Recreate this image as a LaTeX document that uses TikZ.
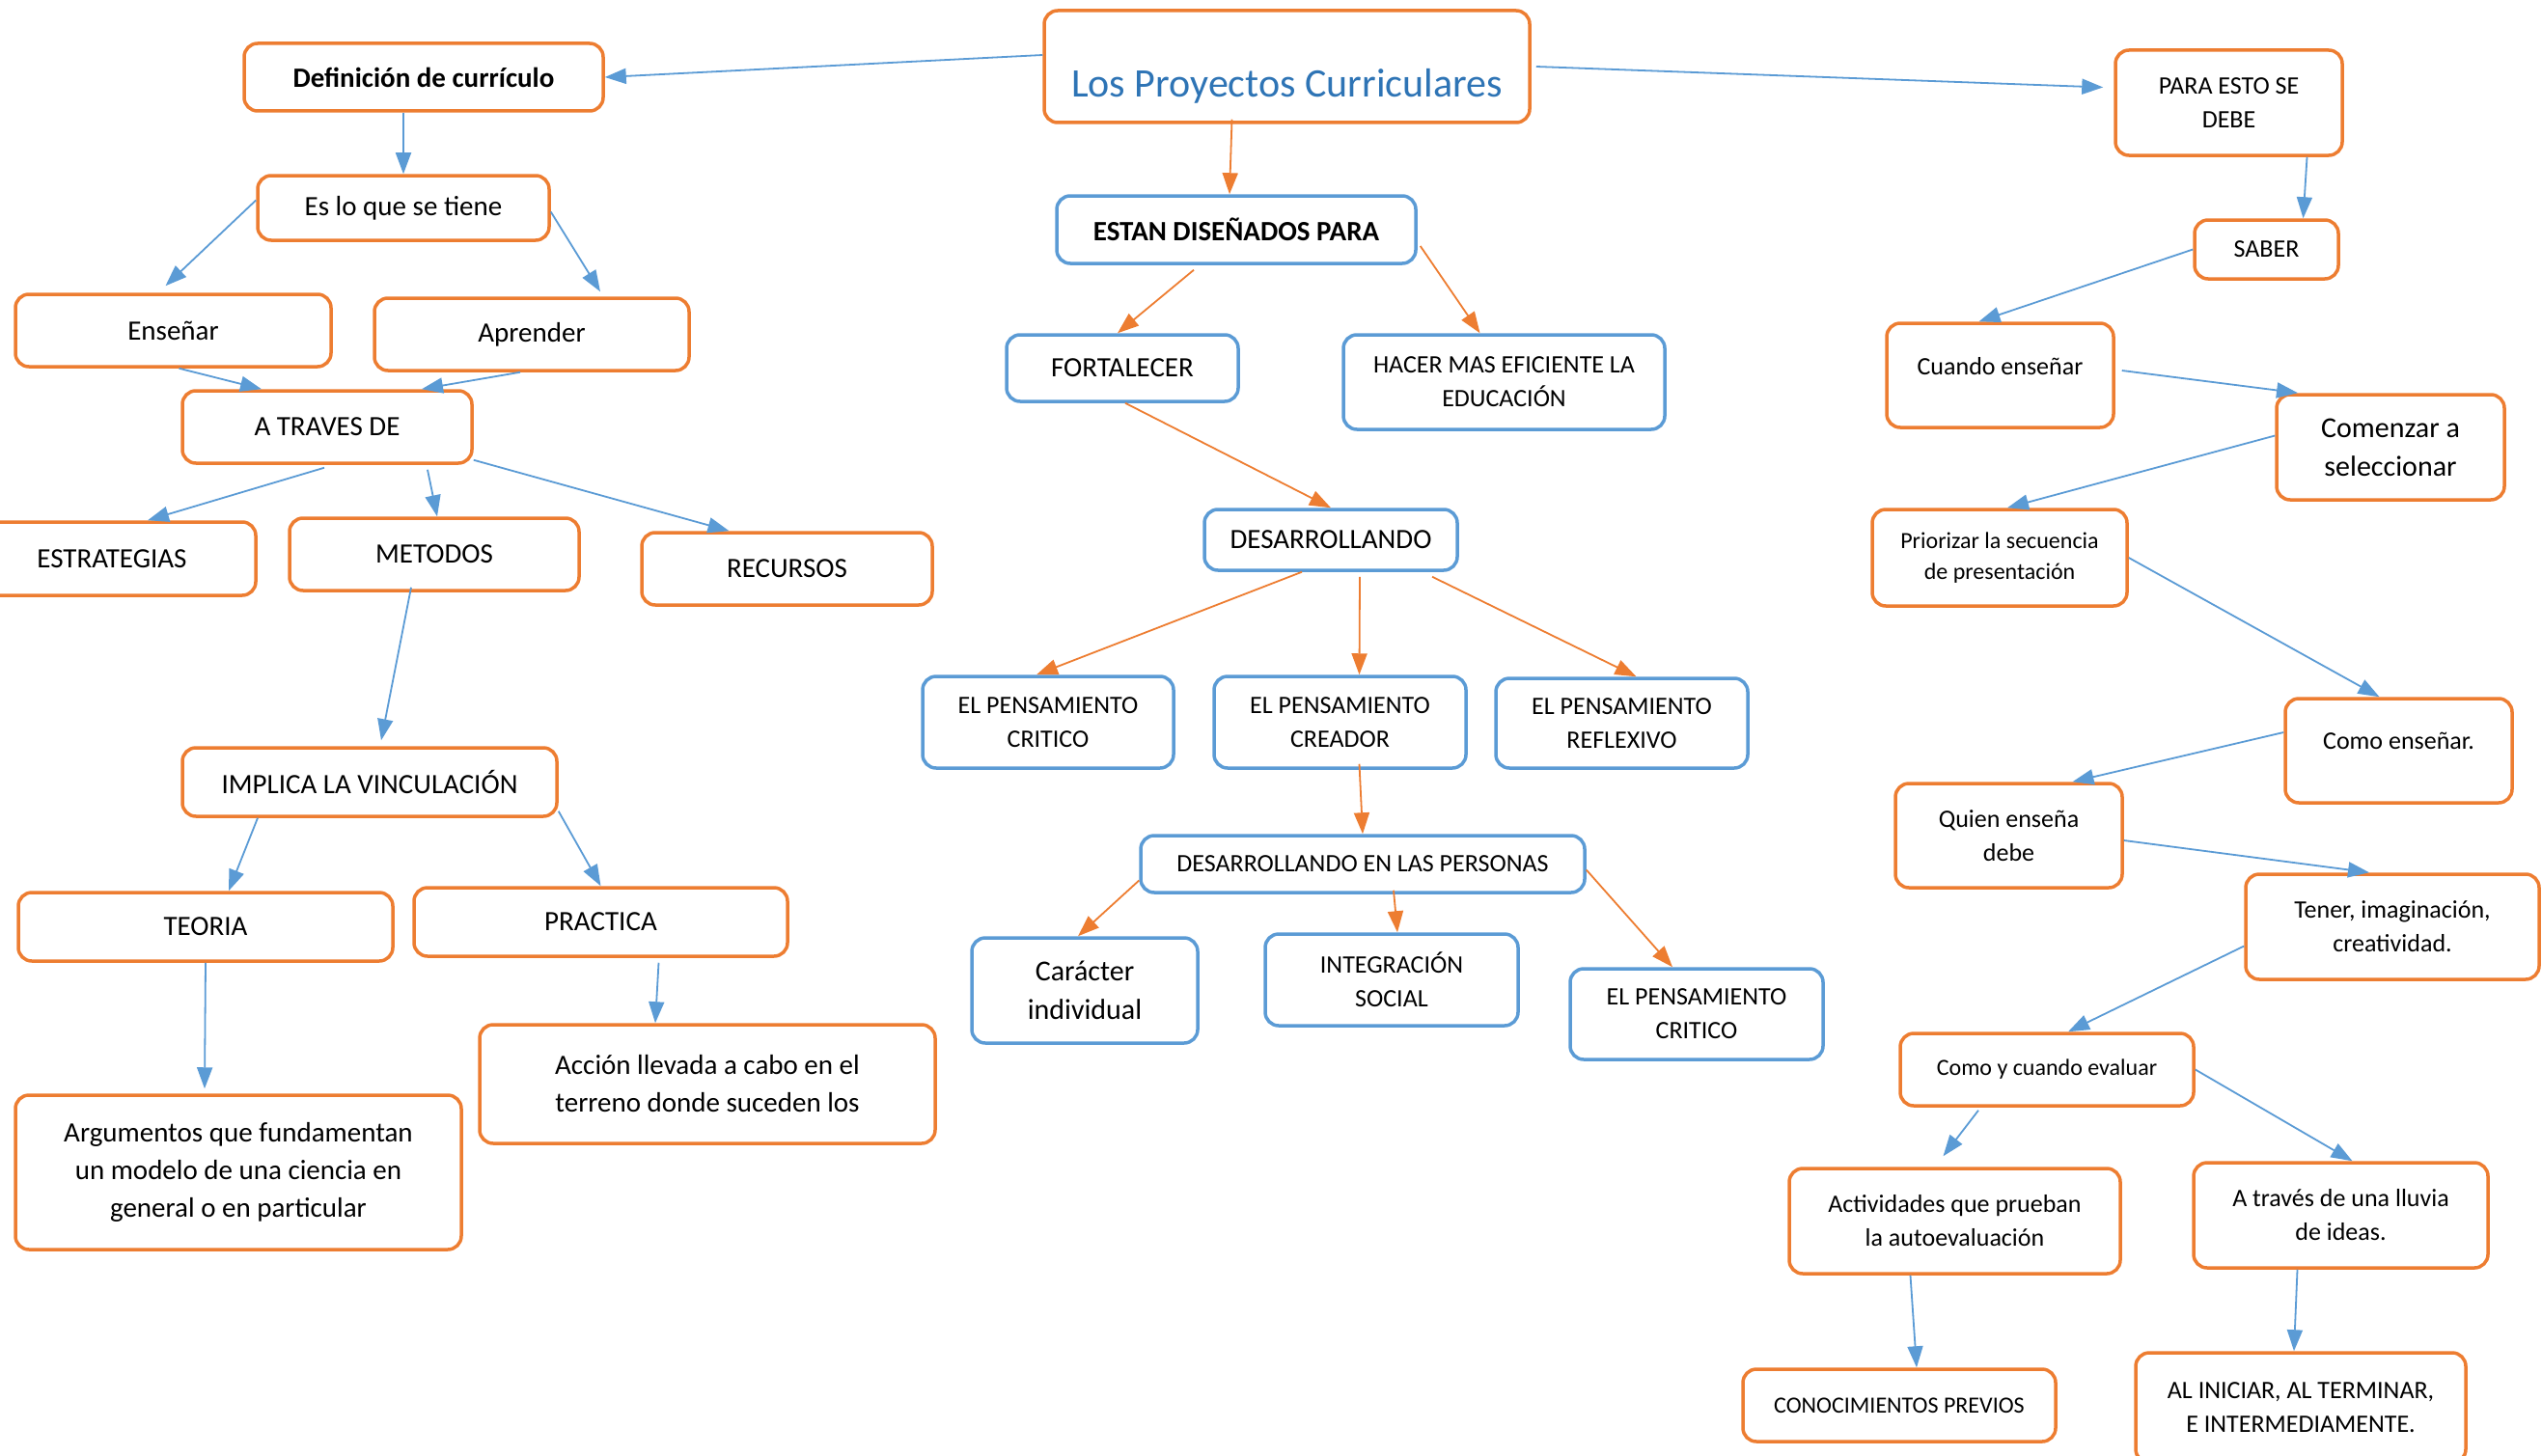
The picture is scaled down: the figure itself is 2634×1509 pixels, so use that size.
\documentclass[tikz,border=0pt]{standalone}
\usepackage{fontspec}
\setmainfont{Carlito}
\usetikzlibrary{arrows.meta}
\definecolor{boxorange}{HTML}{ED7D31}
\definecolor{boxblue}{HTML}{5B9BD5}
\definecolor{titleblue}{HTML}{2E74B5}

\begin{document}
\begin{tikzpicture}[x=1pt,y=-1pt,
  box/.style={draw,rounded corners=14pt,line width=3.5pt,align=center,inner sep=0pt},
  obox/.style={box,draw=boxorange},
  bbox/.style={box,draw=boxblue},
  sz24/.style={font=\fontsize{24}{32}\selectfont},
  sz26/.style={font=\fontsize{26}{35}\selectfont},
  sz29/.style={font=\fontsize{29}{39}\selectfont},
  sz30/.style={font=\fontsize{30}{40}\selectfont},
  barr/.style={color=boxblue,line width=1.8pt,-{Triangle[length=22pt,width=16pt]}},
  oarr/.style={color=boxorange,line width=1.8pt,-{Triangle[length=22pt,width=16pt]}}]
  \useasboundingbox (0,0) rectangle (2634,1509);

  % title
  \node[obox,font=\fontsize{42}{50}\selectfont,text=titleblue,minimum width=503,
        text height=90pt,text depth=26pt] (proy) at (1333.5,69) {Los Proyectos Curriculares};

  % left side
  \node[obox,sz29,minimum width=372,minimum height=70] (def) at (439,80) {\textbf{Definición de currículo}};
  \node[obox,sz29,minimum width=302,minimum height=67] (esloque) at (418,215.5) {Es lo que se tiene};
  \node[obox,sz29,minimum width=327,minimum height=75] (ensenar) at (179.5,342.5) {Enseñar};
  \node[obox,sz29,minimum width=326,minimum height=75] (aprender) at (551,346.5) {Aprender};
  \node[obox,sz29,minimum width=300,minimum height=75] (atraves) at (339,442.5) {A TRAVES DE};
  \node[obox,sz29,minimum width=298,minimum height=76] (estrat) at (116,579) {ESTRATEGIAS};
  \node[obox,sz29,minimum width=300,minimum height=75] (metodos) at (450,574.5) {METODOS};
  \node[obox,sz29,minimum width=301,minimum height=75] (recursos) at (815.5,589.5) {RECURSOS};
  \node[obox,sz29,minimum width=388,minimum height=71] (implica) at (383,810.5) {IMPLICA LA VINCULACIÓN};
  \node[obox,sz29,minimum width=388,minimum height=71] (teoria) at (213,960.5) {TEORIA};
  \node[obox,sz29,minimum width=387,minimum height=71] (practica) at (622.5,955.5) {PRACTICA};
  \node[obox,sz29,minimum width=462,minimum height=160] (argum) at (247,1215)
    {Argumentos que fundamentan\\un modelo de una ciencia en\\general o en particular};
  \node[obox,sz29,minimum width=472,minimum height=123] (accion) at (733,1123.5)
    {Acción llevada a cabo en el\\terreno donde suceden los};

  % centre
  \node[bbox,sz29,minimum width=372,minimum height=70] (estan) at (1281,238) {\textbf{ESTAN DISEÑADOS PARA}};
  \node[bbox,sz29,minimum width=240,minimum height=69] (fort) at (1163,381.5) {FORTALECER};
  \node[bbox,sz26,minimum width=333,minimum height=98] (hacer) at (1558.5,396) {HACER MAS EFICIENTE LA\\EDUCACIÓN};
  \node[bbox,sz29,minimum width=262,minimum height=63] (desarr) at (1379,559.5) {DESARROLLANDO};
  \node[bbox,sz26,minimum width=260,minimum height=95] (epcrit) at (1086,748.5) {EL PENSAMIENTO\\CRITICO};
  \node[bbox,sz26,minimum width=261,minimum height=95] (epcrea) at (1388.5,748.5) {EL PENSAMIENTO\\CREADOR};
  \node[bbox,sz26,minimum width=261,minimum height=93] (eprefl) at (1680.5,749.5) {EL PENSAMIENTO\\REFLEXIVO};
  \node[bbox,sz26,minimum width=460,minimum height=59] (depers) at (1412,895.5) {DESARROLLANDO EN LAS PERSONAS};
  \node[bbox,sz30,minimum width=234,minimum height=109] (caracter) at (1124,1026.5) {Carácter\\individual};
  \node[bbox,sz26,minimum width=262,minimum height=95] (integ) at (1442,1015.5) {INTEGRACIÓN\\SOCIAL};
  \node[bbox,sz26,minimum width=262,minimum height=94] (epcrit2) at (1758,1051) {EL PENSAMIENTO\\CRITICO};

  % right side
  \node[obox,sz26,minimum width=235,minimum height=109] (para) at (2309.5,106.5) {PARA ESTO SE\\DEBE};
  \node[obox,sz26,minimum width=149,minimum height=61] (saber) at (2348.5,258.5) {SABER};
  \node[obox,sz26,minimum width=235,minimum height=108,text depth=20pt] (cuando) at (2072.5,389) {Cuando enseñar};
  \node[obox,sz30,minimum width=236,minimum height=109] (comenzar) at (2477,463.5) {Comenzar a\\seleccionar};
  \node[obox,sz24,minimum width=264,minimum height=100] (prior) at (2072,578) {Priorizar la secuencia\\de presentación};
  \node[obox,sz26,minimum width=235,minimum height=108,text depth=20pt] (comoens) at (2485.5,778) {Como enseñar.};
  \node[obox,sz26,minimum width=235,minimum height=108] (quien) at (2081.5,866) {Quien enseña\\debe};
  \node[obox,sz26,minimum width=304,minimum height=109] (tener) at (2479,960.5) {Tener, imaginación,\\creatividad.};
  \node[obox,sz24,minimum width=304,minimum height=75] (cyc) at (2121,1108.5) {Como y cuando evaluar};
  \node[obox,sz26,minimum width=343,minimum height=109] (activ) at (2025.5,1265.5) {Actividades que prueban\\la autoevaluación};
  \node[obox,sz26,minimum width=305,minimum height=109] (atrav) at (2425.5,1259.5) {A través de una lluvia\\de ideas.};
  \node[obox,sz24,minimum width=324,minimum height=75] (conoc) at (1968,1456.5) {CONOCIMIENTOS PREVIOS};
  \node[obox,sz26,minimum width=342,minimum height=114] (alini) at (2384,1459) {AL INICIAR, AL TERMINAR,\\E INTERMEDIAMENTE.};

  % blue connectors, left
  \draw[barr] ([yshift=12]proy.west) -- (def.east);
  \draw[barr] ([xshift=-21]def.south) -- (esloque.north);
  \draw[barr] ([yshift=8]esloque.west) -- ([xshift=-8,yshift=7]ensenar.north);
  \draw[barr] ([yshift=-4]esloque.east) -- ([xshift=71,yshift=5]aprender.north);
  \draw[barr] ([xshift=6]ensenar.south) -- ([xshift=-68]atraves.north);
  \draw[barr] ([xshift=-12]aprender.south) -- ([xshift=98]atraves.north);
  \draw[barr] ([xshift=-3,yshift=-3]atraves.south) -- ([xshift=37]estrat.north);
  \draw[barr] ([xshift=104,yshift=-5]atraves.south) -- ([xshift=3]metodos.north);
  \draw[barr] ([yshift=5]atraves.south east) -- ([xshift=-60]recursos.north);
  \draw[barr] ([xshift=-24,yshift=5]metodos.south) -- ([xshift=12,yshift=6]implica.north);
  \draw[barr] ([xshift=-116]implica.south) -- ([xshift=24]teoria.north);
  \draw[barr] ([yshift=7]implica.south east) -- (practica.north);
  \draw[barr] (teoria.south) -- ([xshift=-35,yshift=5]argum.north);
  \draw[barr] ([xshift=60,yshift=-5]practica.south) -- ([xshift=-54]accion.north);

  % orange connectors, centre
  \draw[oarr] ([xshift=-57,yshift=5]proy.south) -- ([xshift=-7]estan.north);
  \draw[oarr] ([xshift=-44,yshift=-5]estan.south) -- ([xshift=-5]fort.north);
  \draw[oarr] ([xshift=3,yshift=-17]estan.east) -- ([xshift=-25]hacer.north);
  \draw[oarr] ([xshift=3]fort.south) -- (desarr.north);
  \draw[oarr] ([xshift=-30]desarr.south) -- ([xshift=-12]epcrit.north);
  \draw[oarr] ([xshift=30,yshift=-5]desarr.south) -- ([xshift=20]epcrea.north);
  \draw[oarr] ([xshift=105,yshift=-5]desarr.south) -- ([xshift=15]eprefl.north);
  \draw[oarr] ([xshift=20,yshift=6]epcrea.south) -- (depers.north);
  \draw[oarr] ([yshift=-17]depers.west) -- ([xshift=-7]caracter.north);
  \draw[oarr] ([xshift=32,yshift=4]depers.south) -- ([xshift=6]integ.north);
  \draw[oarr] ([yshift=-6]depers.east) -- ([xshift=-25]epcrit2.north);

  % blue connectors, right
  \draw[barr] ([xshift=5]proy.east) -- ([xshift=-11,yshift=16]para.west);
  \draw[barr] ([xshift=81]para.south) -- ([xshift=38]saber.north);
  \draw[barr] (saber.west) -- ([xshift=-22]cuando.north);
  \draw[barr] ([xshift=7,yshift=5]cuando.east) -- ([xshift=-96]comenzar.north);
  \draw[barr] ([yshift=12]comenzar.west) -- ([xshift=8]prior.north);
  \draw[barr] (prior.east) -- ([xshift=-20]comoens.north);
  \draw[barr] ([yshift=19]comoens.west) -- ([xshift=66]quien.north);
  \draw[barr] ([yshift=-5]quien.east) -- ([xshift=-24]tener.north);
  \draw[barr] ([yshift=-20]tener.west) -- ([xshift=22]cyc.north);
  \draw[barr] ([xshift=-71,yshift=-3]cyc.south) -- ([xshift=-12,yshift=11]activ.north);
  \draw[barr] (cyc.east) -- ([xshift=12]atrav.north);
  \draw[barr] ([xshift=-46]activ.south) -- ([xshift=18]conoc.north);
  \draw[barr] ([xshift=-45]atrav.south) -- ([xshift=-7]alini.north);
\end{tikzpicture}
\end{document}
